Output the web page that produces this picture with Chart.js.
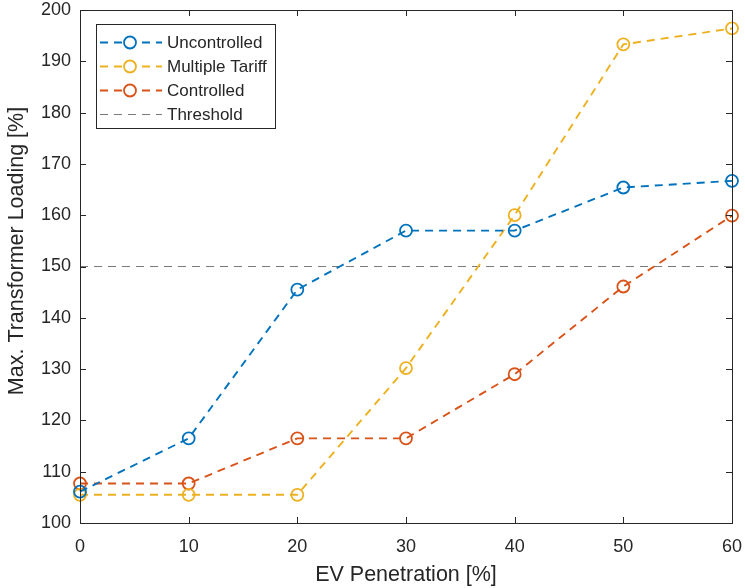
<!DOCTYPE html>
<html>
<head>
<meta charset="utf-8">
<script src="https://cdn.jsdelivr.net/npm/chart.js@4.4.0/dist/chart.umd.min.js"></script>
<style>
    html, body { margin: 0; padding: 0; background: #fff; }
    #wrap { width: 745px; height: 588px; }
</style>
</head>
<body>
<div id="wrap"><canvas id="myChart" width="745" height="588"></canvas></div>
<script>
// values
var penetration = [0, 10, 20, 30, 40, 50, 60];
var uncontrolled = [106.1, 116.5, 145.5, 157.0, 157.0, 165.4, 166.7];
var multipleTariff = [105.5, 105.5, 105.5, 130.2, 160.0, 193.3, 196.4];
var controlled = [107.7, 107.7, 116.5, 116.5, 129.0, 146.1, 159.9];
var threshold = 150;
var xTicks = [0, 10, 20, 30, 40, 50, 60];
var yTicks = [100, 110, 120, 130, 140, 150, 160, 170, 180, 190, 200];

var axisColor = '#262626';
var fontFamily = "'Liberation Sans', Arial, Helvetica, sans-serif";
var yTitle = 'Max. Transformer Loading [%]';

function toPoints(values) {
    return penetration.map(function (x, i) {
        return { x: x, y: values[i] };
    });
}

function series(label, values, color) {
    return {
        label: label,
        data: toPoints(values),
        borderColor: color,
        backgroundColor: 'rgba(0,0,0,0)',
        borderWidth: 1.9,
        borderDash: [8, 6],
        pointStyle: 'circle',
        pointRadius: 6,
        pointBorderWidth: 1.8,
        pointBorderColor: color,
        pointBackgroundColor: 'rgba(0,0,0,0)',
        tension: 0,
        clip: false
    };
}

// box round the plot + inward ticks on every side (matlab look)
var boxPlugin = {
    id: 'boxPlugin',
    afterDraw: function (chart) {
        var ctx = chart.ctx;
        var area = chart.chartArea;
        var xs = chart.scales.x;
        var ys = chart.scales.y;
        var len = 6;
        ctx.save();
        ctx.strokeStyle = axisColor;
        ctx.lineWidth = 1;
        ctx.beginPath();
        xTicks.forEach(function (t) {
            var px = Math.round(xs.getPixelForValue(t)) + 0.5;
            ctx.moveTo(px, area.bottom);
            ctx.lineTo(px, area.bottom - len);
            ctx.moveTo(px, area.top);
            ctx.lineTo(px, area.top + len);
        });
        yTicks.forEach(function (t) {
            var py = Math.round(ys.getPixelForValue(t)) + 0.5;
            ctx.moveTo(area.left, py);
            ctx.lineTo(area.left + len, py);
            ctx.moveTo(area.right, py);
            ctx.lineTo(area.right - len, py);
        });
        ctx.stroke();
        ctx.strokeRect(Math.round(area.left) + 0.5, Math.round(area.top) + 0.5,
            Math.round(area.right - area.left), Math.round(area.bottom - area.top));

        // y title, sits a bit above the middle like the original
        ctx.translate(17, 251);
        ctx.rotate(-Math.PI / 2);
        ctx.fillStyle = axisColor;
        ctx.font = '21.5px ' + fontFamily;
        ctx.textAlign = 'center';
        ctx.textBaseline = 'middle';
        ctx.fillText(yTitle, 0, 0);
        ctx.restore();
    }
};

// legend drawn inside the axes, top left
var insideLegend = {
    id: 'insideLegend',
    afterDraw: function (chart) {
        var ctx = chart.ctx;
        var left = 96, top = 24, width = 179, height = 104;
        var rowY = [42.5, 66.5, 90.5, 114.5];
        ctx.save();
        ctx.fillStyle = '#fff';
        ctx.fillRect(left, top, width, height);
        ctx.strokeStyle = axisColor;
        ctx.lineWidth = 1;
        ctx.strokeRect(left + 0.5, top + 0.5, width, height);

        chart.data.datasets.forEach(function (ds, i) {
            var y = rowY[i];
            ctx.strokeStyle = ds.borderColor;
            ctx.lineWidth = ds.borderWidth;
            ctx.setLineDash([8, 6]);
            ctx.beginPath();
            ctx.moveTo(100, y);
            ctx.lineTo(162, y);
            ctx.stroke();
            ctx.setLineDash([]);
            if (ds.pointRadius > 0) {
                ctx.lineWidth = ds.pointBorderWidth;
                ctx.beginPath();
                ctx.arc(130, y, 6, 0, Math.PI * 2);
                ctx.fillStyle = '#fff';
                ctx.fill();
                ctx.stroke();
            }
            ctx.fillStyle = '#262626';
            ctx.font = '17px ' + fontFamily;
            ctx.textBaseline = 'middle';
            ctx.textAlign = 'left';
            ctx.fillText(ds.label, 167, y + 1);
        });
        ctx.restore();
    }
};

var thresholdSet = {
    label: 'Threshold',
    data: [{ x: penetration[0], y: threshold }, { x: penetration[penetration.length - 1], y: threshold }],
    borderColor: '#7a7a7a',
    backgroundColor: 'rgba(0,0,0,0)',
    borderWidth: 1.1,
    borderDash: [8, 6],
    pointRadius: 0,
    pointHoverRadius: 0
};

var ctx = document.getElementById('myChart').getContext('2d');
var myChart = new Chart(ctx, {
    type: 'line',
    data: {
        datasets: [
            series('Uncontrolled', uncontrolled, '#0072BD'),
            series('Multiple Tariff', multipleTariff, '#EDB120'),
            series('Controlled', controlled, '#D95319'),
            thresholdSet
        ]
    },
    options: {
        responsive: false,
        animation: false,
        layout: {
            padding: { top: 10, right: 13, left: 0, bottom: 0 }
        },
        plugins: {
            legend: { display: false },
            tooltip: { enabled: false }
        },
        scales: {
            x: {
                type: 'linear',
                min: 0,
                max: 60,
                afterBuildTicks: function (scale) {
                    scale.ticks = xTicks.map(function (v) { return { value: v }; });
                },
                afterFit: function (scale) {
                    scale.height = 65;
                    scale.paddingLeft = 0;
                    scale.paddingRight = 0;
                },
                grid: { display: false, drawTicks: false },
                border: { display: false },
                ticks: {
                    padding: 13,
                    color: axisColor,
                    font: { family: fontFamily, size: 18 },
                    maxRotation: 0
                },
                title: {
                    display: true,
                    text: 'EV Penetration [%]',
                    color: axisColor,
                    font: { family: fontFamily, size: 21.5 },
                    padding: { top: 0, bottom: 0 }
                }
            },
            y: {
                type: 'linear',
                min: 100,
                max: 200,
                afterBuildTicks: function (scale) {
                    scale.ticks = yTicks.map(function (v) { return { value: v }; });
                },
                afterFit: function (scale) {
                    scale.width = 80;
                    scale.paddingTop = 0;
                    scale.paddingBottom = 0;
                },
                grid: { display: false, drawTicks: false },
                border: { display: false },
                ticks: {
                    padding: 9,
                    color: axisColor,
                    font: { family: fontFamily, size: 18 }
                }
            }
        }
    },
    plugins: [boxPlugin, insideLegend]
});
</script>
</body>
</html>
